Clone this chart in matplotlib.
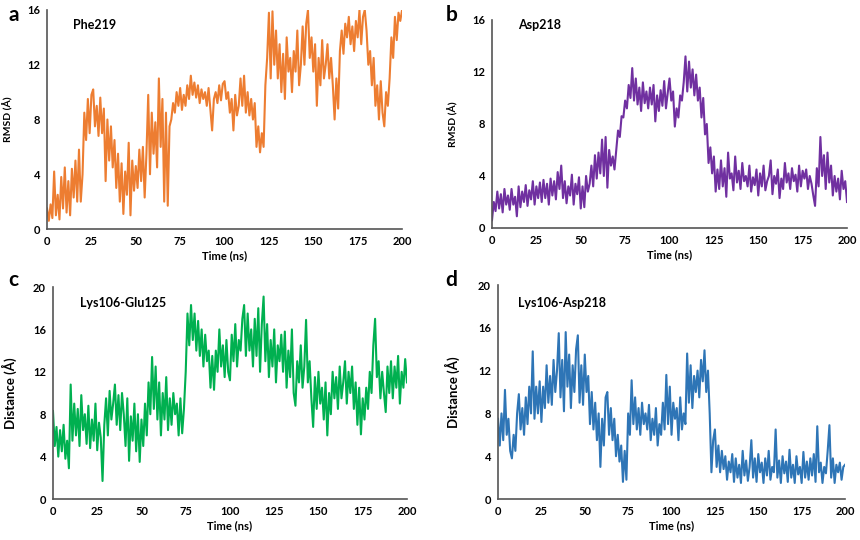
import matplotlib
matplotlib.use('Agg')
import matplotlib.pyplot as plt
import numpy as np

plt.rcParams['font.family'] = ['Lato', 'DejaVu Sans']
plt.rcParams['font.weight'] = 'bold'

time_ns = np.arange(0, 201, 1)

phe219 = [1.5, 0.6, 1.8, 0.8, 4.2, 1.0, 2.5, 0.7, 3.8, 1.5,
          4.5, 1.2, 3.5, 1.0, 4.4, 2.3, 5.0, 2.0, 5.8, 2.0,
          4.0, 8.5, 6.5, 9.5, 7.0, 9.8, 10.2, 7.5, 9.0, 6.8,
          9.6, 7.0, 8.8, 3.5, 8.0, 5.0, 7.5, 4.5, 6.5, 3.0,
          5.5, 2.0, 4.8, 1.1, 4.2, 2.5, 6.3, 1.0, 5.0, 2.8,
          4.6, 3.0, 5.8, 3.5, 6.0, 2.3, 5.5, 9.8, 4.0, 8.5,
          5.5, 7.8, 4.5, 11.0, 6.0, 9.5, 2.0, 8.5, 1.7, 7.5,
          8.0, 9.2, 8.5, 10.0, 9.0, 10.3, 8.7, 9.8, 9.0, 10.5,
          9.5, 11.2, 9.8, 10.7, 9.6, 10.5, 9.2, 10.2, 9.5, 10.0,
          9.0, 10.3, 8.7, 7.2, 9.5, 10.0, 9.2, 10.5, 9.4, 10.6,
          10.8, 9.5, 10.0, 8.5, 9.5, 7.2, 9.8, 8.3, 9.0, 11.0,
          9.0, 11.2, 8.5, 10.0, 8.3, 9.5, 8.0, 9.2, 6.0, 7.5,
          5.6, 7.0, 6.0, 10.5, 12.5, 15.8, 11.0, 15.9, 12.0, 14.5,
          11.0, 13.5, 10.0, 12.8, 9.5, 14.0, 11.5, 12.5, 10.0, 13.0,
          11.5, 14.5, 10.5, 12.0, 14.8, 12.0, 15.0, 16.0, 12.5, 14.0,
          11.5, 13.5, 9.0, 12.5, 10.5, 13.8, 11.0, 12.0, 13.5, 11.0,
          12.5, 10.5, 8.0, 11.0, 8.8, 13.0, 14.5, 12.8, 15.0, 14.0,
          15.5, 13.5, 14.8, 13.0, 15.2, 14.0, 16.0, 13.5, 15.5, 16.0,
          14.5, 12.0, 13.0, 10.5, 12.5, 9.0, 10.5, 8.0, 10.8, 8.5,
          7.5, 10.0, 9.0, 11.0, 14.0, 12.5, 15.5, 13.8, 15.8, 15.2,
          16.0]

asp218 = [0.6, 2.0, 1.3, 2.8, 1.5, 2.6, 1.2, 3.0, 1.8, 2.5,
          1.4, 3.0, 1.8, 2.4, 0.9, 3.2, 1.6, 2.8, 2.0, 3.3,
          1.7, 2.9, 2.2, 3.6, 1.8, 3.2, 2.3, 3.5, 2.0, 3.7,
          2.3, 3.4, 1.8, 3.8, 2.5, 3.6, 2.2, 4.3, 3.0, 4.8,
          2.3, 3.6, 1.9, 3.2, 2.5, 4.1, 1.8, 3.4, 2.6, 3.9,
          1.5, 3.2, 1.6, 4.0, 2.8, 3.4, 4.8, 3.2, 5.6, 3.8,
          5.8, 4.2, 6.8, 4.0, 7.0, 3.1, 6.0, 4.8, 5.5, 4.5,
          6.0, 7.5, 7.0, 8.6, 8.5, 9.8, 9.2, 11.0, 10.0, 12.3,
          9.8, 11.5, 9.5, 10.8, 9.0, 11.2, 9.6, 10.5, 9.2, 10.8,
          9.5, 11.0, 8.2, 10.2, 9.0, 10.6, 9.4, 11.3, 9.2, 10.4,
          11.5, 9.8, 10.5, 7.8, 9.2, 8.5, 10.2, 9.8, 11.2, 13.2,
          10.5, 12.8, 10.8, 12.2, 10.2, 11.8, 9.8, 10.8, 8.5, 10.0,
          7.2, 8.0, 5.0, 6.2, 4.2, 5.5, 2.8, 4.5, 3.0, 5.2,
          3.2, 4.6, 2.4, 5.8, 3.8, 4.2, 2.9, 5.5, 3.5, 4.4,
          3.0, 5.0, 3.6, 4.0, 3.2, 4.8, 2.8, 3.9, 3.3, 4.5,
          2.5, 4.2, 3.2, 4.8, 2.9, 3.6, 4.0, 5.2, 2.6, 4.0,
          3.4, 4.5, 2.3, 3.8, 3.0, 5.0, 3.5, 4.2, 3.0, 4.6,
          3.6, 4.1, 2.8, 4.8, 3.2, 4.4, 3.8, 4.5, 3.0, 4.0,
          3.4, 2.5, 1.7, 4.6, 3.2, 7.0, 4.0, 5.6, 3.0, 5.8,
          3.5, 4.8, 2.5, 4.0, 2.8, 3.8, 2.2, 4.4, 3.0, 3.6,
          2.0]

lys106_glu125 = [8.3, 5.0, 6.8, 4.0, 6.5, 4.5, 7.0, 3.8, 5.5, 2.9,
                 10.8, 5.5, 9.0, 6.0, 8.5, 5.0, 9.8, 6.5, 8.0, 5.2,
                 8.8, 4.8, 7.5, 5.5, 9.0, 4.6, 7.2, 5.8, 1.7, 7.0,
                 9.5, 6.0, 10.2, 7.5, 9.0, 10.8, 7.0, 9.8, 6.5, 10.0,
                 8.0, 5.0, 9.5, 3.6, 7.8, 5.5, 9.0, 4.5, 8.0, 3.5,
                 7.5, 5.0, 9.0, 6.0, 11.0, 8.0, 13.4, 8.5, 12.5, 7.5,
                 11.0, 6.0, 10.0, 7.5, 11.5, 6.5, 9.5, 7.0, 10.0, 8.0,
                 9.0, 6.0, 9.5, 6.2, 8.5, 12.0, 17.5, 14.5, 18.3, 15.0,
                 17.5, 14.0, 16.8, 13.5, 16.0, 12.5, 15.5, 13.0, 14.0, 10.5,
                 13.5, 10.3, 14.0, 12.0, 16.0, 12.5, 14.5, 11.5, 15.0, 12.0,
                 11.2, 15.5, 13.0, 16.5, 12.5, 15.0, 14.0, 17.0, 18.3, 13.5,
                 17.5, 14.0, 16.0, 12.5, 17.0, 13.5, 18.0, 12.0, 16.5, 19.1,
                 13.0, 16.5, 11.5, 15.0, 12.5, 16.0, 11.0, 14.5, 13.0, 15.5,
                 12.0, 15.8, 10.5, 14.0, 11.5, 16.0, 10.0, 8.8, 13.0, 11.0,
                 14.5, 10.5, 12.5, 16.9, 11.0, 13.0, 9.5, 6.8, 11.5, 8.5,
                 12.0, 9.0, 10.5, 7.5, 11.0, 6.0, 10.0, 8.0, 12.0, 9.5,
                 11.5, 8.5, 12.5, 9.5, 11.0, 13.0, 9.0, 12.0, 10.0, 12.5,
                 8.5, 11.0, 7.0, 10.5, 6.1, 9.5, 7.5, 10.5, 8.5, 12.0,
                 10.0, 14.5, 17.0, 11.5, 13.0, 9.5, 12.0, 10.0, 8.2, 12.5,
                 10.0, 13.0, 9.5, 12.5, 10.5, 13.5, 9.0, 12.0, 10.5, 13.2,
                 11.0]

lys106_asp218 = [7.5, 5.0, 8.0, 5.5, 10.2, 6.0, 7.5, 4.5, 3.8, 6.0,
                 4.5, 8.0, 9.8, 6.5, 8.5, 6.0, 9.5, 7.0, 10.5, 8.0,
                 13.8, 7.5, 10.5, 8.0, 11.0, 7.2, 10.5, 8.5, 12.5, 9.0,
                 11.5, 8.8, 13.0, 10.0, 12.0, 15.5, 9.5, 13.0, 8.2, 15.6,
                 10.5, 13.5, 8.5, 12.5, 10.0, 14.0, 15.3, 9.0, 12.5, 8.8,
                 13.5, 10.0, 11.5, 7.0, 10.0, 6.5, 9.0, 5.5, 8.0, 3.0,
                 7.5, 5.0, 9.5, 10.0, 6.0, 8.5, 5.5, 7.5, 4.0, 6.0,
                 3.5, 5.0, 1.6, 4.5, 1.8, 8.0, 6.0, 11.1, 7.0, 9.5,
                 6.5, 8.5, 6.0, 9.0, 7.0, 8.0, 6.5, 8.8, 5.5, 7.5,
                 6.0, 8.5, 5.0, 7.0, 6.0, 9.0, 6.5, 11.6, 7.0, 10.5,
                 6.0, 9.0, 7.5, 8.5, 5.5, 9.5, 6.5, 8.0, 7.0, 13.6,
                 9.0, 12.5, 8.5, 11.5, 10.0, 12.0, 9.5, 13.0, 11.0, 13.9,
                 10.0, 12.0, 8.0, 2.5, 5.5, 6.5, 3.0, 5.0, 2.5, 4.5,
                 2.8, 4.0, 1.8, 3.5, 2.5, 4.2, 1.6, 3.8, 2.0, 3.2,
                 1.5, 4.5, 2.2, 3.6, 1.7, 3.0, 5.5, 2.0, 3.8, 1.6,
                 4.2, 2.5, 3.4, 1.5, 3.8, 2.2, 4.5, 1.8, 3.0, 2.5,
                 6.5, 2.0, 3.6, 1.5, 4.0, 2.4, 3.5, 1.6, 4.6, 2.0,
                 3.2, 1.5, 4.0, 2.3, 3.0, 1.5, 4.4, 2.0, 3.5, 1.8,
                 3.8, 2.2, 4.2, 1.6, 6.8, 2.5, 3.4, 1.5, 3.0, 2.4,
                 4.5, 6.9, 2.0, 3.8, 1.5, 3.2, 2.5, 3.4, 1.8, 3.0,
                 3.2]

x_ticks = [0, 25, 50, 75, 100, 125, 150, 175, 200]

fig = plt.figure(figsize=(8.6, 5.4), dpi=100)

panels = [
    # rect, data, color, title, title pos, ylabel, ymax, yticks, letter, letter pos, ylabel size, ylabel x
    ([0.0547, 0.5759, 0.4128, 0.4056], phe219, '#ED7D31', 'Phe219', (0.073, 0.93),
     'RMSD (\u00c5)', 16, [0, 4, 8, 12, 16], 'a', (0.016, 0.972), 7.5, -0.095),
    ([0.5721, 0.5778, 0.4128, 0.3852], asp218, '#7030A0', 'Asp218', (0.073, 0.975),
     'RMSD (\u00c5)', 16, [0, 4, 8, 12, 16], 'b', (0.525, 0.972), 7.5, -0.095),
    ([0.0616, 0.0759, 0.4116, 0.3926], lys106_glu125, '#00B050', 'Lys106-Glu125', (0.076, 0.925),
     'Distance (\u00c5)', 20, [0, 4, 8, 12, 16, 20], 'c', (0.016, 0.482), 9.5, -0.103),
    ([0.5791, 0.0759, 0.4035, 0.3963], lys106_asp218, '#2E75B6', 'Lys106-Asp218', (0.058, 0.916),
     'Distance (\u00c5)', 20, [0, 4, 8, 12, 16, 20], 'd', (0.525, 0.482), 9.5, -0.11),
]

for rect, data, color, title, tpos, ylab, ymax, yticks, letter, lpos, ylsize, ylx in panels:
    ax = fig.add_axes(rect)
    ax.plot(time_ns, data, color=color, linewidth=1.5)
    ax.set_xlim(0, 200)
    ax.set_ylim(0, ymax)
    ax.set_xticks(x_ticks)
    ax.set_yticks(yticks)
    ax.tick_params(length=0, labelsize=8, pad=5)
    for lab in ax.get_xticklabels() + ax.get_yticklabels():
        lab.set_fontweight('bold')
    ax.spines['top'].set_visible(False)
    ax.spines['right'].set_visible(False)
    ax.spines['left'].set_color('#555555')
    ax.spines['bottom'].set_color('#555555')
    ax.spines['left'].set_linewidth(1.2)
    ax.spines['bottom'].set_linewidth(1.2)
    ax.set_xlabel('Time (ns)', fontsize=8, fontweight='bold', labelpad=2)
    ax.set_ylabel(ylab, fontsize=ylsize, fontweight='bold')
    ax.yaxis.set_label_coords(ylx, 0.5)
    ax.text(tpos[0], tpos[1], title, transform=ax.transAxes, fontsize=9,
            fontweight='bold', va='center', ha='left')
    fig.text(lpos[0], lpos[1], letter, fontsize=15, fontweight='bold',
             va='center', ha='center')

plt.savefig('out.png', dpi=100)
